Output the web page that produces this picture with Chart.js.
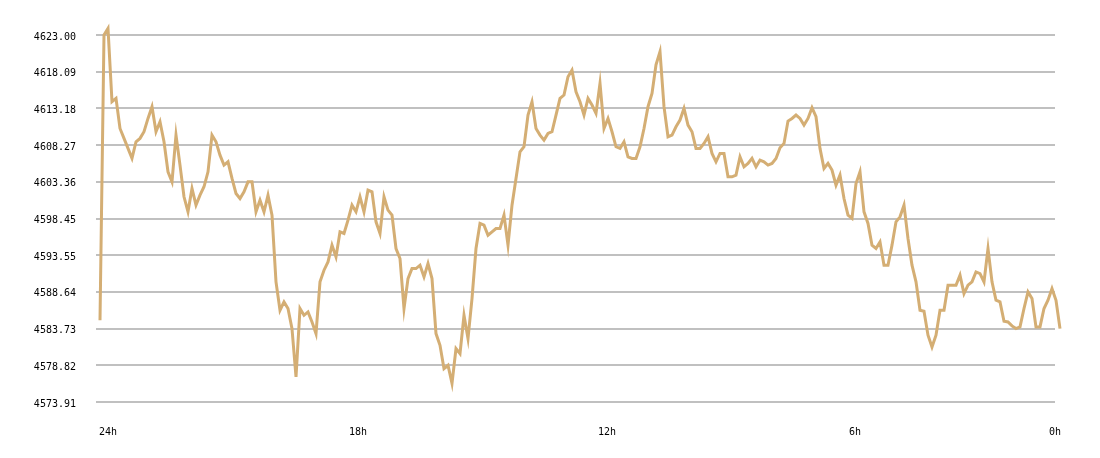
<!DOCTYPE html>
<html>
<head>
<meta charset="utf-8">
<script src="https://cdn.jsdelivr.net/npm/chart.js@4"></script>
<style>
  html, body { margin: 0; padding: 0; background: #fff; }
  canvas { display: block; }
</style>
</head>
<body>
<canvas id="priceChart" width="1100" height="458"></canvas>
<script>
// price over the last 24h, one sample per step, oldest first
const prices = [
  4584.84, 4623.00, 4623.89, 4614.07, 4614.52, 4610.50, 4609.17, 4607.83, 4606.49, 4608.72,
  4609.17, 4610.06, 4611.84, 4613.41, 4610.06, 4611.40, 4608.72, 4604.70, 4603.36, 4609.61,
  4605.60, 4601.36, 4599.35, 4602.47, 4600.24, 4601.58, 4602.70, 4604.70, 4609.61, 4608.72,
  4606.93, 4605.60, 4606.04, 4603.81, 4601.80, 4601.13, 4602.03, 4603.36, 4603.36, 4599.35,
  4600.91, 4599.35, 4601.58, 4598.90, 4589.98, 4586.18, 4587.30, 4586.41, 4583.73, 4577.27,
  4586.41, 4585.51, 4585.96, 4584.62, 4583.06, 4589.98, 4591.54, 4592.65, 4594.89, 4593.32,
  4596.67, 4596.45, 4598.23, 4600.24, 4599.35, 4601.36, 4599.35, 4602.25, 4602.03, 4598.01,
  4596.45, 4601.36, 4599.57, 4598.90, 4594.44, 4593.10, 4586.41, 4590.42, 4591.76, 4591.76,
  4592.21, 4590.65, 4592.43, 4590.42, 4583.06, 4581.50, 4578.37, 4578.82, 4576.40, 4581.05,
  4580.38, 4585.51, 4582.39, 4587.75, 4594.44, 4597.80, 4597.56, 4596.22, 4596.67, 4597.12,
  4597.12, 4598.90, 4594.89, 4600.24, 4603.81, 4607.38, 4608.05, 4612.29, 4614.07, 4610.50,
  4609.61, 4608.94, 4609.83, 4610.06, 4612.29, 4614.52, 4614.97, 4617.42, 4618.31, 4615.41,
  4614.07, 4612.29, 4614.52, 4613.63, 4612.51, 4616.53, 4610.50, 4611.84, 4610.06, 4608.05,
  4607.83, 4608.72, 4606.71, 4606.49, 4606.49, 4608.05, 4610.50, 4613.41, 4615.19, 4619.00,
  4620.77, 4613.41, 4609.39, 4609.61, 4610.73, 4611.62, 4613.18, 4610.95, 4610.06, 4607.83,
  4607.83, 4608.50, 4609.39, 4607.16, 4606.04, 4607.16, 4607.16, 4604.03, 4604.03, 4604.26,
  4606.71, 4605.37, 4605.82, 4606.49, 4605.37, 4606.27, 4606.04, 4605.60, 4605.82, 4606.49,
  4607.92, 4608.50, 4611.49, 4611.84, 4612.29, 4611.84, 4610.95, 4611.84, 4613.27, 4612.07,
  4607.83, 4605.15, 4605.82, 4604.93, 4602.92, 4604.26, 4601.13, 4598.90, 4598.46, 4603.14,
  4604.70, 4599.35, 4597.79, 4594.89, 4594.44, 4595.33, 4592.21, 4592.21, 4594.89, 4598.01,
  4598.68, 4600.24, 4595.78, 4592.21, 4589.98, 4586.18, 4586.05, 4582.84, 4581.27, 4582.84,
  4586.18, 4586.18, 4589.53, 4589.53, 4589.53, 4590.87, 4588.41, 4589.53, 4589.98, 4591.31,
  4591.09, 4589.98, 4594.44, 4589.98, 4587.52, 4587.30, 4584.71, 4584.62, 4584.09, 4583.73,
  4583.95, 4586.41, 4588.64, 4587.75, 4583.95, 4583.95, 4586.41, 4587.52, 4589.08, 4587.52,
  4583.73
];

const priceTicks = [4573.91, 4578.82, 4583.73, 4588.64, 4593.55, 4598.45, 4603.36, 4608.27, 4613.18, 4618.09, 4623.00];
const hourLabels = ['24h', '18h', '12h', '6h', '0h'];
const hourTickAt = [2, 64.5, 126.75, 188.75, 238.75];

const labelFont = { family: 'DejaVu Sans Mono', size: 10 };

const ctx = document.getElementById('priceChart').getContext('2d');

const chart = new Chart(ctx, {
  type: 'line',
  data: {
    datasets: [{
      data: prices.map((p, i) => ({ x: i, y: p })),
      borderColor: '#d4ae74',
      borderWidth: 3,
      pointRadius: 0,
      tension: 0,
      fill: false,
      clip: false
    }]
  },
  options: {
    responsive: false,
    devicePixelRatio: 1,
    animation: false,
    layout: { padding: { left: 0, top: 35, right: 45, bottom: 0 } },
    plugins: {
      legend: { display: false },
      tooltip: { enabled: false }
    },
    scales: {
      x: {
        type: 'linear',
        bounds: 'data',
        grid: { display: false, drawTicks: false },
        border: { display: false },
        // the line runs a little past the last grid pixel, so the range is set here
        // rather than with min/max (which would drop the last point)
        afterDataLimits: (scale) => { scale.min = -1; scale.max = 238.75; },
        afterFit: (scale) => { scale.height = 56; },
        afterBuildTicks: (scale) => {
          scale.ticks = hourTickAt.map(v => ({ value: v }));
        },
        ticks: {
          autoSkip: false,
          maxRotation: 0,
          padding: 24,
          color: '#000',
          font: labelFont,
          callback: (value, index) => hourLabels[index]
        }
      },
      y: {
        min: priceTicks[0],
        max: priceTicks[priceTicks.length - 1],
        grid: { color: '#c0c0c0', lineWidth: 2, drawTicks: false },
        border: { display: false },
        afterFit: (scale) => { scale.width = 96; },
        afterBuildTicks: (scale) => {
          scale.ticks = priceTicks.map(v => ({ value: v }));
        },
        ticks: {
          padding: 20,
          labelOffset: 2,
          color: '#000',
          font: labelFont,
          callback: (value) => value.toFixed(2)
        }
      }
    }
  }
});
</script>
</body>
</html>
